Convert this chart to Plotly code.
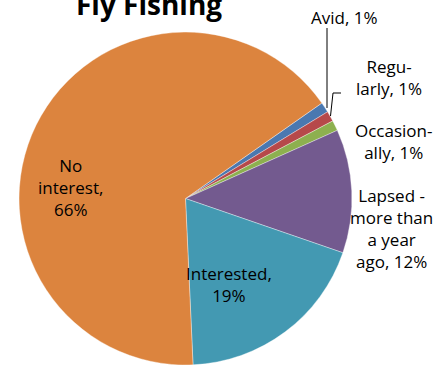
import plotly.graph_objects as go

# Survey shares for fly fishing participation
labels = ["Avid", "Regularly", "Occasionally", "Lapsed - more than a year ago", "Interested", "No interest"]
values = [1, 1, 1, 12, 19, 66]
colors = ["#4A78B0", "#B6494A", "#8DB04F", "#735A8F", "#4399B2", "#DC843E"]

# Wrapped label text as shown on the chart
label_lines = [
    ["Avid"],
    ["Regu-", "larly"],
    ["Occasion-", "ally"],
    ["Lapsed -", "more than", "a year", "ago"],
    ["Interested"],
    ["No", "interest"],
]

W, H = 434, 365
FONT = "'Open Sans', sans-serif"

fig = go.Figure(
    go.Pie(
        labels=labels,
        values=values,
        sort=False,
        direction="clockwise",
        rotation=55,
        marker=dict(colors=colors, line=dict(color="rgba(255,255,255,0.6)", width=0.6)),
        textinfo="none",
        hoverinfo="label+percent",
        domain=dict(x=[0.0426, 0.8122], y=[0.0, 0.912]),
        showlegend=False,
    )
)


def label_text(i):
    lines = list(label_lines[i])
    lines[-1] = f"{lines[-1]}, {values[i]}%"
    # inside labels put the percentage on its own line
    if i == 5:
        lines = ["No", "interest,", f"{values[i]}%"]
    if i == 4:
        lines = ["Interested,", f"{values[i]}%"]
    return "<br>".join(lines)


# label anchor positions in pixels (x from left, y from top)
label_pos = [
    (344, 17),
    (389, 77),
    (393, 142),
    (391, 228),
    (229, 284),
    (70, 187),
]

annotations = []
for i, (px, py) in enumerate(label_pos):
    annotations.append(
        dict(
            x=px / W,
            y=1 - py / H,
            xref="paper",
            yref="paper",
            text=label_text(i),
            showarrow=False,
            font=dict(family=FONT, size=17, color="#000000"),
            align="center",
            xanchor="center",
            yanchor="middle",
        )
    )

annotations.append(
    dict(
        x=149 / W,
        y=1 - 4 / H,
        xref="paper",
        yref="paper",
        text="<b>Fly Fishing</b>",
        showarrow=False,
        font=dict(family=FONT, size=28, color="#000000"),
        xanchor="center",
        yanchor="middle",
    )
)

# leader lines for the thin slices
shapes = [
    dict(type="line", xref="paper", yref="paper",
         x0=327 / W, y0=1 - 28 / H, x1=327 / W, y1=1 - 108 / H,
         line=dict(color="#000000", width=1)),
    dict(type="path", xref="paper", yref="paper",
         path=f"M {341 / W},{1 - 93 / H} L {333 / W},{1 - 93 / H} L {330.5 / W},{1 - 116 / H}",
         line=dict(color="#000000", width=1)),
]

fig.update_layout(
    width=W,
    height=H,
    margin=dict(l=0, r=0, t=0, b=0),
    paper_bgcolor="#FFFFFF",
    plot_bgcolor="#FFFFFF",
    annotations=annotations,
    shapes=shapes,
)

fig.write_html("out.html")
